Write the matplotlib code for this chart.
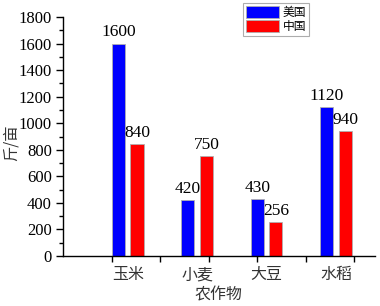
import matplotlib
matplotlib.use("Agg")
import matplotlib.pyplot as plt
import numpy as np
from matplotlib.ticker import MultipleLocator

categories = ["玉米", "小麦", "大豆", "水稻"]
usa = [1600, 420, 430, 1120]
china = [840, 750, 256, 940]
series_names = ["美国", "中国"]
xlabel = "农作物"
ylabel = "斤/亩"

cjk = ["Noto Sans CJK SC", "DejaVu Sans"]
serif = ["Liberation Serif", "DejaVu Serif"]

fig = plt.figure(figsize=(3.8, 3.06), dpi=100)
ax = fig.add_axes([63/380, 1 - 256/306, 312/380, 239/306])

centers = 1.335 + np.arange(len(categories)) * 1.43
off = 0.19
w = 0.27
ax.bar(centers - off, usa, w, color="#0000ff", edgecolor="#b0b0b0", linewidth=0.6, label=series_names[0])
ax.bar(centers + off, china, w, color="#ff0000", edgecolor="#b0b0b0", linewidth=0.6, label=series_names[1])

for x, v in zip(centers - off, usa):
    ax.text(x, v + 25, str(v), ha="center", va="bottom", fontsize=12.5, family=serif)
for x, v in zip(centers + off, china):
    ax.text(x, v + 25, str(v), ha="center", va="bottom", fontsize=12.5, family=serif)

ax.set_ylim(0, 1800)
ax.set_xlim(0, 6.43)
ax.yaxis.set_major_locator(MultipleLocator(200))
ax.yaxis.set_minor_locator(MultipleLocator(100))
ax.set_xticks([1, 2, 3, 4, 5, 6])
ax.set_xticklabels([])
for t in ax.get_yticklabels():
    t.set_fontfamily(serif)
ax.tick_params(axis="y", which="major", length=5, width=1, labelsize=12, pad=3)
ax.tick_params(axis="y", which="minor", length=3, width=1)
ax.tick_params(axis="x", which="major", length=4, width=1)
for s in ["top", "right"]:
    ax.spines[s].set_visible(False)
for s in ["left", "bottom"]:
    ax.spines[s].set_linewidth(1)

for c, name in zip(centers, categories):
    ax.text(c, -140, name, ha="center", va="center", fontsize=11.5, family=cjk, color="#333333")

ax.text(3.2, -296, xlabel, ha="center", va="center", fontsize=11.5, family=cjk, color="#333333")
fig.text(11/380, 1 - 143/306, ylabel, rotation=90, ha="center", va="center", fontsize=11, family=cjk, color="#333333")

leg = ax.legend(loc="upper left", bbox_to_anchor=((243-63)/312, 1 + 14/239), prop={"family": cjk, "size": 8.5},
                frameon=True, fancybox=False, edgecolor="#999999", handlelength=2.8, handleheight=1.2,
                borderpad=0.25, labelspacing=0.1, handletextpad=0.3, borderaxespad=0)
leg.get_frame().set_linewidth(0.8)

fig.savefig("out.png", dpi=100)
